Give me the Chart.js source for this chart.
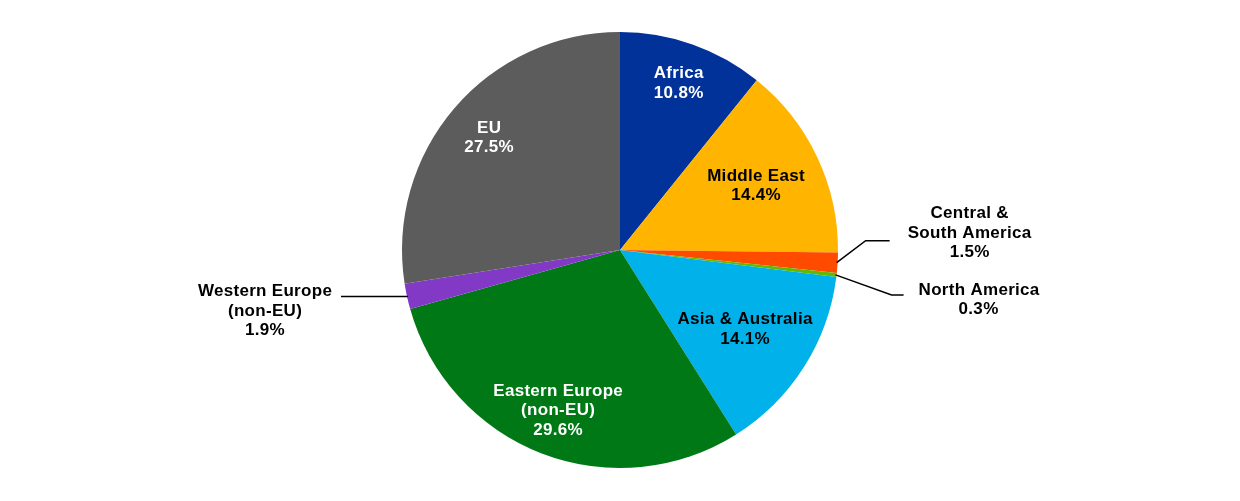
<!DOCTYPE html>
<html>
<head>
<meta charset="utf-8">
<script src="https://cdn.jsdelivr.net/npm/chart.js@4.4.0/dist/chart.umd.min.js"></script>
<style>
  html, body { margin: 0; padding: 0; background: #fff; }
  #wrap { width: 1240px; height: 501px; }
</style>
</head>
<body>
<div id="wrap"><canvas id="pie"></canvas></div>
<script>
// regions, clockwise from 12 o'clock
const regions = ['Africa', 'Middle East', 'Central & South America', 'North America',
  'Asia & Australia', 'Eastern Europe (non-EU)', 'Western Europe (non-EU)', 'EU'];
const shares = [10.8, 14.4, 1.5, 0.3, 14.1, 29.6, 1.9, 27.5];
const colours = ['#003299', '#FFB400', '#FF4B00', '#65B800', '#00B1EA', '#007816', '#8139C6', '#5C5C5C'];

// how each label is shown: inside the slice or outside with a leader line
const labelLines = [
  ['Africa'], ['Middle East'], ['Central &', 'South America'], ['North America'],
  ['Asia & Australia'], ['Eastern Europe', '(non-EU)'], ['Western Europe', '(non-EU)'], ['EU']
];
const inside = {0: {r: 0.81, c: '#fff'}, 1: {r: 0.69, c: '#000'}, 4: {r: 0.68, c: '#000'},
  5: {r: 0.79, c: '#fff'}, 7: {r: 0.79, c: '#fff'}};

const FONT = 'bold 17px "Liberation Sans", Arial, sans-serif';
const LH = 19.5;

function drawLines(ctx, lines, x, y, align) {
  ctx.textAlign = align;
  lines.forEach((l, i) => ctx.fillText(l, x, y + i * LH));
}

const labelPlugin = {
  id: 'sliceLabels',
  afterDatasetsDraw(chart) {
    const ctx = chart.ctx;
    const arcs = chart.getDatasetMeta(0).data;
    ctx.save();
    ctx.font = FONT;
    if ('letterSpacing' in ctx) ctx.letterSpacing = '0.3px';
    ctx.textBaseline = 'middle';
    arcs.forEach((arc, i) => {
      const mid = (arc.startAngle + arc.endAngle) / 2;
      const R = arc.outerRadius;
      const lines = labelLines[i].concat([shares[i].toFixed(1) + '%']);
      if (inside[i]) {
        const r = R * inside[i].r;
        const x = arc.x + Math.cos(mid) * r;
        const y = arc.y + Math.sin(mid) * r - (lines.length - 1) * LH / 2;
        ctx.fillStyle = inside[i].c;
        drawLines(ctx, lines, x, y, 'center');
        return;
      }
      const ax = arc.x + Math.cos(mid) * R;
      const ay = arc.y + Math.sin(mid) * R;
      ctx.strokeStyle = '#000';
      ctx.lineWidth = 1.5;
      ctx.fillStyle = '#000';
      ctx.beginPath();
      if (i === 2) {
        ctx.moveTo(ax - 1, ay);
        ctx.lineTo(ax + 28, ay - 22);
        ctx.lineTo(ax + 52, ay - 22);
        ctx.stroke();
        drawLines(ctx, lines, ax + 132, ay - 49, 'center');
      } else if (i === 3) {
        ctx.moveTo(ax - 1, ay);
        ctx.lineTo(ax + 55, ay + 20);
        ctx.lineTo(ax + 67, ay + 20);
        ctx.stroke();
        ctx.textAlign = 'left';
        ctx.fillText(lines[0], ax + 82, ay + 15);
        ctx.textAlign = 'center';
        ctx.fillText(lines[1], ax + 142, ay + 15 + LH);
      } else {
        ctx.moveTo(ax + 1, ay);
        ctx.lineTo(ax - 66, ay);
        ctx.stroke();
        drawLines(ctx, lines, ax - 142, ay - 5, 'center');
      }
    });
    ctx.restore();
  }
};

new Chart(document.getElementById('pie'), {
  type: 'pie',
  data: {
    labels: regions,
    datasets: [{ data: shares, backgroundColor: colours, borderWidth: 0 }]
  },
  options: {
    responsive: true,
    maintainAspectRatio: false,
    animation: false,
    layout: { padding: { top: 32, bottom: 33 } },
    plugins: { legend: { display: false }, tooltip: { enabled: false } }
  },
  plugins: [labelPlugin]
});
</script>
</body>
</html>
